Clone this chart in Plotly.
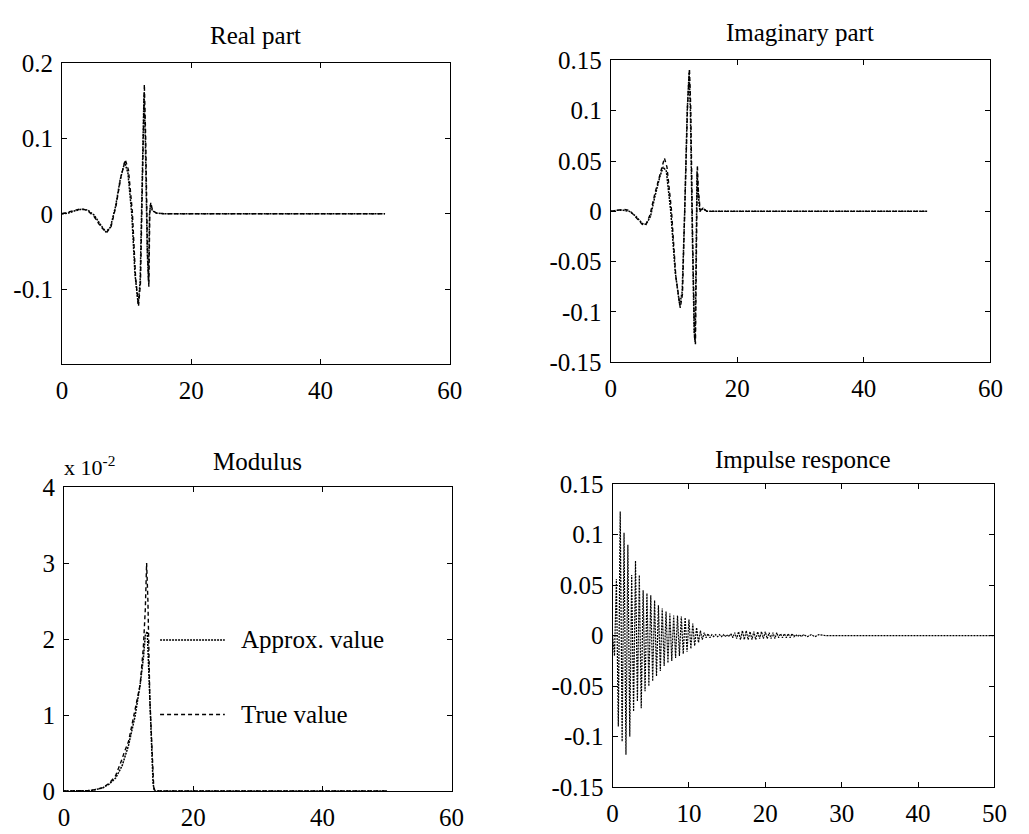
import plotly.graph_objects as go

# ---------------- data ----------------
# Real part
re_approx_x = [0, 1, 2, 3, 4, 5, 6, 6.8, 7.5, 8.3, 9.0, 9.7, 10.2, 10.8, 11.3, 11.8, 12.1, 12.4, 12.7, 12.9, 13.2, 13.4, 13.55, 13.7, 14.0, 14.6, 16, 20, 30, 40, 50]
re_approx_y = [0, 0.001, 0.004, 0.006, 0.005, -0.002, -0.015, -0.024, -0.018, 0.010, 0.045, 0.068, 0.055, 0.0, -0.080, -0.120, -0.090, 0.050, 0.160, 0.100, -0.050, -0.090, 0.0, 0.012, 0.004, 0.001, 0, 0, 0, 0, 0]
re_true_x = [0, 1, 2, 3, 4, 5, 6, 6.9, 7.6, 8.4, 9.1, 9.8, 10.3, 10.9, 11.4, 11.85, 12.15, 12.45, 12.75, 12.95, 13.25, 13.45, 13.6, 13.75, 14.0, 14.6, 16, 20, 30, 40, 50]
re_true_y = [0, 0.002, 0.005, 0.007, 0.004, -0.004, -0.017, -0.025, -0.017, 0.012, 0.048, 0.072, 0.058, 0.002, -0.085, -0.123, -0.092, 0.055, 0.172, 0.105, -0.055, -0.097, 0.002, 0.015, 0.005, 0.001, 0, 0, 0, 0, 0]

# Imaginary part
im_approx_x = [0, 1, 2, 3, 4, 5, 5.6, 6.3, 7.0, 7.8, 8.3, 8.8, 9.5, 10.2, 10.9, 11.3, 11.7, 12.1, 12.4, 12.6, 12.9, 13.2, 13.35, 13.5, 13.65, 13.8, 14.1, 14.6, 15.2, 20, 30, 40, 50]
im_approx_y = [0, 0.001, 0.001, 0.0, -0.005, -0.012, -0.013, -0.005, 0.015, 0.035, 0.044, 0.040, 0.0, -0.060, -0.093, -0.080, 0.0, 0.100, 0.138, 0.100, -0.020, -0.120, -0.130, -0.050, 0.040, 0.020, 0.0, 0.003, 0.0, 0, 0, 0, 0]
im_true_x = [0, 1, 2, 3, 4, 5, 5.5, 6.2, 7.0, 7.9, 8.5, 8.9, 9.6, 10.3, 11.0, 11.35, 11.75, 12.15, 12.45, 12.65, 12.95, 13.25, 13.4, 13.55, 13.7, 13.85, 14.15, 14.6, 15.2, 20, 30, 40, 50]
im_true_y = [0, 0.001, 0.002, 0.001, -0.006, -0.013, -0.014, -0.004, 0.018, 0.040, 0.053, 0.044, 0.002, -0.065, -0.096, -0.082, 0.004, 0.105, 0.142, 0.104, -0.025, -0.125, -0.132, -0.048, 0.046, 0.022, 0.001, 0.003, 0.0, 0, 0, 0, 0]

# Modulus (x 10^-2)
mod_approx_x = [0, 3, 4, 5, 6, 7, 8, 9, 10, 11, 11.8, 12.3, 12.6, 12.9, 13.2, 13.5, 13.8, 14.0, 20, 30, 40, 50]
mod_approx_y = [0, 0.0, 0.005, 0.02, 0.04, 0.09, 0.17, 0.33, 0.60, 0.98, 1.40, 1.75, 2.05, 2.10, 1.50, 0.70, 0.10, 0.0, 0, 0, 0, 0]
mod_true_x = [0, 3, 4, 5, 6, 7, 8, 9, 9.3, 10, 11, 11.8, 12.3, 12.6, 12.8, 13.0, 13.3, 13.6, 13.9, 14.1, 20, 30, 40, 50]
mod_true_y = [0, 0.0, 0.005, 0.02, 0.045, 0.10, 0.20, 0.42, 0.50, 0.65, 1.05, 1.40, 1.90, 2.40, 3.00, 2.50, 1.20, 0.50, 0.05, 0.0, 0, 0, 0, 0]

# Impulse response
imp_x = [0, 0.25, 0.5, 0.75, 1.0, 1.25, 1.5, 1.75, 2.0, 2.25, 2.5, 2.75, 3.0, 3.25, 3.5, 3.75,
         4.0, 4.25, 4.5, 4.75, 5.0, 5.25, 5.5, 5.75, 6.0, 6.25, 6.5, 6.75, 7.0, 7.25, 7.5, 7.75,
         8.0, 8.25, 8.5, 8.75, 9.0, 9.25, 9.5, 9.75, 10.0, 10.25, 10.5, 10.75, 11.0, 11.25, 11.5, 11.75,
         12.0, 12.25, 12.5, 12.75, 13.0, 13.25, 13.5, 13.75, 14.0, 14.25, 14.5, 14.75, 15.0, 15.25, 15.5, 15.75,
         16.0, 16.25, 16.5, 16.75, 17.0, 17.25, 17.5, 17.75, 18.0, 18.25, 18.5, 18.75, 19.0, 19.25, 19.5, 19.75,
         20.0, 20.25, 20.5, 20.75, 21.0, 21.25, 21.5, 21.75, 22.0, 22.25, 22.5, 22.75, 23.0, 23.25, 23.5, 23.75,
         24.0, 24.25, 24.5, 24.75, 25.0, 25.5, 26.0, 26.5, 27.0, 28.0, 30.0, 40.0, 50.0]
imp_y = [0, -0.020, 0.056, -0.090, 0.123, -0.105, 0.102, -0.118, 0.090, -0.100, 0.060, -0.075, 0.074, -0.065, 0.060, -0.072,
         0.045, -0.055, 0.042, -0.050, 0.040, -0.045, 0.035, -0.040, 0.030, -0.035, 0.027, -0.030, 0.024, -0.027, 0.022, -0.025,
         0.020, -0.022, 0.020, -0.020, 0.019, -0.018, 0.018, -0.016, 0.016, -0.013, 0.012, -0.010, 0.008, -0.007, 0.005, -0.004,
         0.003, -0.002, 0.002, -0.002, 0.001, -0.001, 0.001, -0.001, 0.001, -0.001, 0.001, -0.001, 0.001, -0.001, 0.002, -0.002,
         0.003, -0.003, 0.004, -0.004, 0.005, -0.004, 0.005, -0.004, 0.004, -0.004, 0.004, -0.004, 0.004, -0.003, 0.004, -0.003,
         0.004, -0.003, 0.003, -0.003, 0.003, -0.003, 0.003, -0.002, 0.002, -0.002, 0.002, -0.002, 0.002, -0.002, 0.002, -0.001,
         0.001, -0.001, 0.001, -0.001, 0.001, -0.001, 0.001, -0.001, 0.001, 0.0, 0.0, 0.0, 0.0]

titles = ["Real part", "Imaginary part", "Modulus", "Impulse responce"]

FONT = "Liberation Serif"
FS = 25
approx_style = dict(color="black", width=1.5, dash="2px,1px")
true_style = dict(color="black", width=1.4, dash="4px,3px")

fig = go.Figure()
fig.add_trace(go.Scatter(x=re_approx_x, y=re_approx_y, mode="lines", line=approx_style, xaxis="x", yaxis="y"))
fig.add_trace(go.Scatter(x=re_true_x, y=re_true_y, mode="lines", line=true_style, xaxis="x", yaxis="y"))
fig.add_trace(go.Scatter(x=im_approx_x, y=im_approx_y, mode="lines", line=approx_style, xaxis="x2", yaxis="y2"))
fig.add_trace(go.Scatter(x=im_true_x, y=im_true_y, mode="lines", line=true_style, xaxis="x2", yaxis="y2"))
fig.add_trace(go.Scatter(x=mod_approx_x, y=mod_approx_y, mode="lines", line=approx_style, xaxis="x3", yaxis="y3"))
fig.add_trace(go.Scatter(x=mod_true_x, y=mod_true_y, mode="lines", line=true_style, xaxis="x3", yaxis="y3"))
fig.add_trace(go.Scatter(x=imp_x, y=imp_y, mode="lines", line=dict(color="black", width=1.2, dash="2px,1px"), xaxis="x4", yaxis="y4"))

W, H = 1029, 834
def px_x(p):
    return p / W
def px_y(p):
    return 1 - p / H

common = dict(showline=True, linecolor="black", linewidth=1, mirror="ticks", ticks="inside",
              ticklen=5, tickcolor="black", showgrid=False, zeroline=False,
              tickfont=dict(family=FONT, size=FS, color="black"))
xcommon = dict(common, ticklabelstandoff=4)
ycommon = dict(common, ticklabelstandoff=3)

def fmt(v):
    return "%g" % v

re_yt = [-0.1, 0, 0.1, 0.2]
im_yt = [-0.15, -0.1, -0.05, 0, 0.05, 0.1, 0.15]
mod_yt = [0, 1, 2, 3, 4]
x60 = [0, 20, 40, 60]
x50 = [0, 10, 20, 30, 40, 50]

fig.update_layout(
    width=W, height=H, margin=dict(l=0, r=0, t=0, b=0),
    paper_bgcolor="white", plot_bgcolor="white", showlegend=False,
    xaxis=dict(domain=[px_x(57), px_x(452)], range=[0, 60], tickvals=x60, ticktext=[fmt(v) for v in x60], anchor="y", **xcommon),
    yaxis=dict(domain=[px_y(363), px_y(52)], range=[-0.2, 0.2], tickvals=re_yt, ticktext=[fmt(v) for v in re_yt], anchor="x", **ycommon),
    xaxis2=dict(domain=[px_x(616), px_x(1003)], range=[0, 60], tickvals=x60, ticktext=[fmt(v) for v in x60], anchor="y2", **xcommon),
    yaxis2=dict(domain=[px_y(361), px_y(49)], range=[-0.15, 0.15], tickvals=im_yt, ticktext=[fmt(v) for v in im_yt], anchor="x2", **ycommon),
    xaxis3=dict(domain=[px_x(59), px_x(454)], range=[0, 60], tickvals=x60, ticktext=[fmt(v) for v in x60], anchor="y3", **xcommon),
    yaxis3=dict(domain=[px_y(804), px_y(490)], range=[0, 4], tickvals=mod_yt, ticktext=[fmt(v) for v in mod_yt], anchor="x3", **ycommon),
    xaxis4=dict(domain=[px_x(618), px_x(1007)], range=[0, 50], tickvals=x50, ticktext=[fmt(v) for v in x50], anchor="y4", **xcommon),
    yaxis4=dict(domain=[px_y(800), px_y(487)], range=[-0.15, 0.15], tickvals=im_yt, ticktext=[fmt(v) for v in im_yt], anchor="x4", **ycommon),
)

# titles
title_pos = [(254, 23), (809, 20), (256, 463), (812, 461)]
for t, (cx, cy) in zip(titles, title_pos):
    fig.add_annotation(text=t, x=px_x(cx), y=px_y(cy), xref="paper", yref="paper",
                       showarrow=False, xanchor="center", yanchor="middle",
                       font=dict(family=FONT, size=FS, color="black"))

# exponent label
fig.add_annotation(text="x 10<sup>-2</sup>", x=px_x(57), y=px_y(468), xref="paper", yref="paper",
                   showarrow=False, xanchor="left", yanchor="middle",
                   font=dict(family=FONT, size=22, color="black"))

# legend inside modulus plot
leg = [("Approx. value", 0.497, approx_style), ("True value", 0.2516, true_style)]
for label, yy, st in leg:
    fig.add_shape(type="line", xref="x3 domain", yref="y3 domain", x0=0.248, x1=0.415, y0=yy, y1=yy,
                  line=dict(color="black", width=st["width"], dash=st["dash"]))
    fig.add_annotation(text=label, xref="x3 domain", yref="y3 domain", x=0.452, y=yy,
                       showarrow=False, xanchor="left", yanchor="middle",
                       font=dict(family=FONT, size=FS, color="black"))

fig.write_html("out.html")
